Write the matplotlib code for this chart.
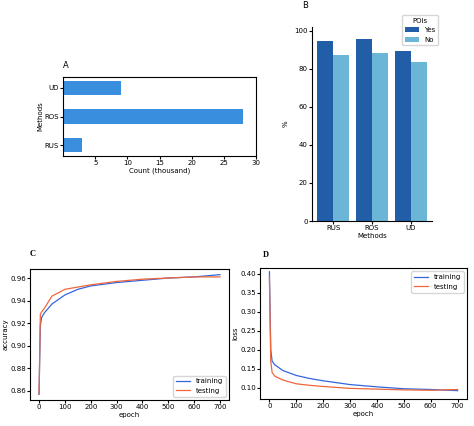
import matplotlib
matplotlib.use("Agg")
import matplotlib.pyplot as plt

methods_a = ["RUS", "ROS", "UD"]
counts_a = [3, 28, 9]

methods_b = ["RUS", "ROS", "UD"]
yes_b = [94.5, 95.5, 89.5]
no_b = [87.5, 88.5, 83.5]

ep = [0, 5, 10, 20, 50, 100, 150, 200, 300, 400, 500, 600, 700]
acc_train = [0.857, 0.918, 0.925, 0.929, 0.937, 0.945, 0.950, 0.953, 0.956, 0.958, 0.960, 0.961, 0.963]
acc_test = [0.857, 0.928, 0.930, 0.933, 0.944, 0.950, 0.952, 0.954, 0.957, 0.959, 0.960, 0.961, 0.961]
loss_train = [0.405, 0.20, 0.17, 0.16, 0.145, 0.132, 0.124, 0.118, 0.108, 0.102, 0.097, 0.095, 0.092]
loss_test = [0.39, 0.17, 0.14, 0.13, 0.12, 0.11, 0.106, 0.103, 0.098, 0.096, 0.094, 0.093, 0.095]

plt.rcParams.update({"font.size": 5, "font.family": "DejaVu Sans"})
W, H = 474, 426
fig = plt.figure(figsize=(W/100, H/100), dpi=100)
def ax_at(l, t, r, b):
    return fig.add_axes([l/W, 1-b/H, (r-l)/W, (b-t)/H])

# A
a = ax_at(63, 77, 256, 156)
a.barh(methods_a, counts_a, height=0.5, color="#3a8ede")
a.set_xlim(0, 30); a.set_xticks([5, 10, 15, 20, 25, 30])
a.set_xlabel("Count (thousand)", labelpad=1); a.set_ylabel("Methods", labelpad=1)
a.tick_params(length=2, pad=1)
fig.text(63/W, 1-68/H, "A", fontsize=6)

# B
b = ax_at(312, 27, 432, 221)
import numpy as np
x = np.arange(len(methods_b))
b.bar(x-0.2, yes_b, 0.4, color="#225ea8", label="Yes")
b.bar(x+0.2, no_b, 0.4, color="#6bb6d6", label="No")
b.set_xticks(x, methods_b); b.set_ylim(0, 102)
b.set_xlabel("Methods", labelpad=1); b.set_ylabel("%", labelpad=4)
for s in ["top", "right"]: b.spines[s].set_visible(False)
b.tick_params(length=2, pad=1)
b.legend(title="POIs", loc="upper right", bbox_to_anchor=(1.08, 1.08), fontsize=5, title_fontsize=5)
fig.text(302/W, 1-8/H, "B", fontsize=6)

# C
c = ax_at(30, 269, 229, 400)
c.plot(ep, acc_train, color="#3366dd", lw=0.9, label="training")
c.plot(ep, acc_test, color="#f0663c", lw=0.9, label="testing")
c.set_ylim(0.852, 0.968); c.set_xticks(range(0, 701, 100))
c.set_yticks([0.86, 0.88, 0.90, 0.92, 0.94, 0.96])
c.set_xlabel("epoch", labelpad=1); c.set_ylabel("accuracy", labelpad=1)
c.tick_params(length=2, pad=1)
c.legend(loc="lower right", fontsize=5)
fig.text(30/W, 1-256/H, "C", fontsize=6, family="Liberation Serif", weight="bold")

# D
d = ax_at(260, 268, 467, 399)
d.plot(ep, loss_train, color="#3366dd", lw=0.9, label="training")
d.plot(ep, loss_test, color="#f0663c", lw=0.9, label="testing")
d.set_ylim(0.07, 0.415); d.set_xticks(range(0, 701, 100))
d.set_xlabel("epoch", labelpad=1); d.set_ylabel("loss", labelpad=1)
d.tick_params(length=2, pad=1)
d.legend(loc="upper right", fontsize=5)
fig.text(263/W, 1-257/H, "D", fontsize=6, family="Liberation Serif", weight="bold")

fig.savefig("out.png", dpi=100)
